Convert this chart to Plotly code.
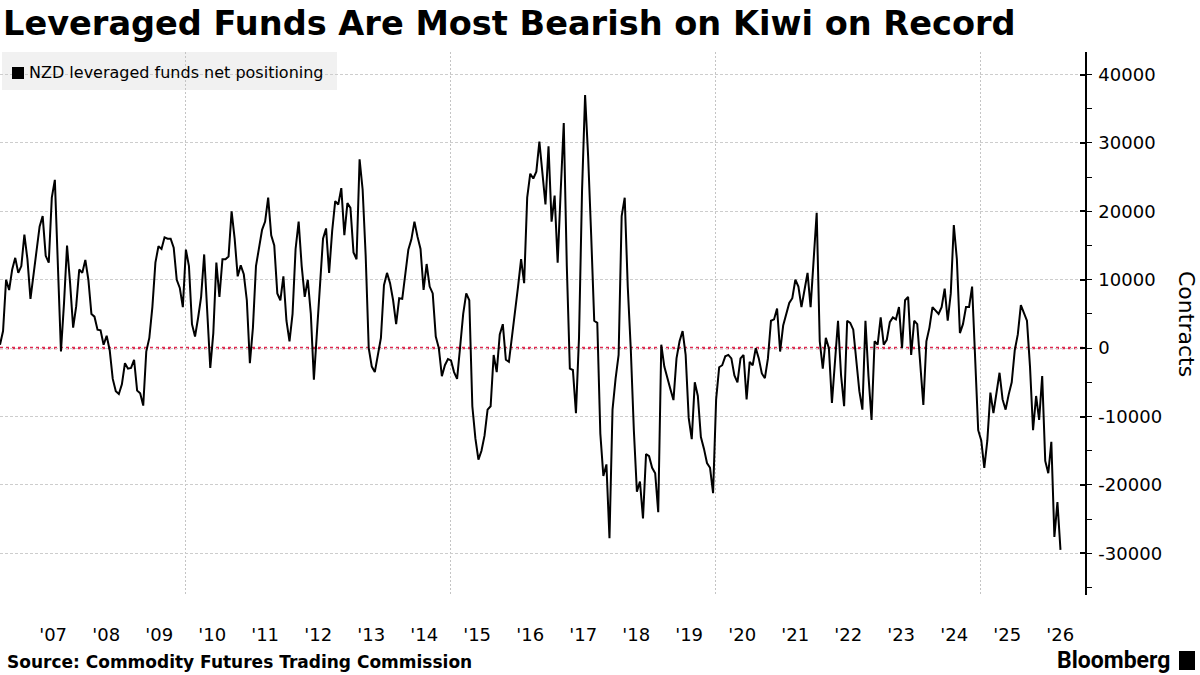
import pandas as pd
import plotly.graph_objects as go

# ---- data (NZD leveraged funds net positioning, thousands of contracts, sampled every 3 weeks) ----
start_date = "2006-07-01"
net_k = [
    0.5, 2.5, 10, 8.5, 11.5, 13.2, 11, 12, 16.6, 13,
    7.2, 10.5, 14, 17.8, 19.3, 13.5, 12.5, 22, 24.6, 12.5,
    -0.5, 6.5, 15, 9.5, 3, 6.1, 11.5, 11, 12.9, 10,
    5, 4.6, 2.7, 2.6, 0.5, 1.8, -0.3, -4.5, -6.3, -6.7,
    -5.3, -2.2, -3, -2.9, -1.7, -6.2, -6.6, -8.4, -0.5, 1.5,
    6, 12.5, 14.9, 14.5, 16.2, 16, 16, 14.7, 10, 8.8,
    6, 14.4, 12, 3.5, 1.7, 4.4, 7.5, 13.7, 4.5, -2.9,
    2.2, 12.5, 7.5, 13, 13, 13.4, 20, 16, 10.5, 12.1,
    10.8, 7, -2.2, 3, 12, 14.8, 17.3, 18.5, 22, 16.5,
    15, 8, 7, 10.5, 4, 1, 5, 14.5, 18.5,
    12, 7.5, 10, 5, -4.6, 2.5, 9, 16, 17.5, 11,
    17.1, 21.5, 21, 23.4, 16.5, 21.2, 20.5, 14, 13, 27.6,
    23.2, 13.5, 0, -2.7, -3.5, -1, 1.5, 9.2, 11, 9.5,
    7, 3.5, 7.3, 7.2, 11, 14.4, 15.9, 18.5, 16.3, 14.5,
    8.5, 12.3, 9, 8, 1.7, 0, -4.1, -2.5, -1.6, -1.8,
    -3.5, -4.5, 0.2, 5, 8, 7, -8.5, -13.2, -16.3, -15,
    -12.8, -9, -8.5, -1, -3.5, 2, 3.5, -1.7, -2, 1.5,
    5.6, 9, 13, 9.5, 22, 25.5, 24.8, 25.8, 30.2, 26,
    21, 29.5, 18.5, 22.3, 12.5, 23, 32.9, 12, -3, -3.2,
    -9.5, 1.5, 23, 37, 28, 16.5, 4, 3.7, -12.5, -18.7,
    -17, -27.8, -9, -4.5, -1, 19.3, 22, 9, -0.2, -12,
    -21, -19.5, -24.9, -15.5, -15.8, -17.5, -18.3, -24, 0.5, -2.7,
    -4.5, -6, -7.6, -1.5, 1, 2.5, -1, -10.2, -13.3, -5,
    -7, -13, -14.7, -16.8, -17.5, -21.2, -7.5, -2.8, -2.5, -1.2,
    -1, -1.5, -4, -5, -1.5, -1, -7.5, -2, -2.5, 0,
    -1.5, -3.7, -4.4, -1.5, 4, 4.2, 5.8, -0.5, 3.3, 5,
    6.6, 7.3, 10, 9, 6, 8.5, 11, 6, 13, 19.8,
    1, -3, 1.5, 0, -8, -2, 4, -4, -8.5, 4,
    3.7, 2.7, -1.5, -6.3, -9, 4, -4.1, -10.5, 1, 0.5,
    4.5, 0.5, 1.2, 3.8, 4.5, 4.2, 6, 0, 7, 7.5,
    -1, 4, 3.5, -2, -8.3, 1, 3, 6, 5.5, 5,
    6, 8.7, 4, 8, 18, 13, 2.2, 3.5, 6, 6,
    9, -1.5, -12, -13.5, -17.5, -13.5, -6.5, -9.5, -6.8, -3.6,
    -7.5, -9, -6.8, -5, -0.3, 2, 6.3, 5.2, 4, -2.7,
    -12, -7, -10.5, -4.1, -16.5, -18.3, -13.7, -27.6, -22.5, -29.5,
]
dates = pd.date_range(start_date, periods=len(net_k), freq="21D")
contracts = [v * 1000 for v in net_k]

year_ticks = [f"{y}-07-02" for y in range(2007, 2027)]
year_labels = ["'" + str(y)[2:] for y in range(2007, 2027)]
y_ticks = [-30000, -20000, -10000, 0, 10000, 20000, 30000, 40000]
y_labels = ["-30000", "-20000", "-10000", "0", "10000", "20000", "30000", "40000"]

title_text = "Leveraged Funds Are Most Bearish on Kiwi on Record"
series_name = "NZD leveraged funds net positioning"
source_text = "Source: Commodity Futures Trading Commission"

FONT = "DejaVu Sans"

fig = go.Figure()
fig.add_trace(go.Scatter(
    x=dates, y=contracts, mode="lines", name=series_name,
    line=dict(color="#000000", width=2), showlegend=False,
))

# zero line
fig.add_shape(type="line", xref="paper", x0=0, x1=1, yref="y", y0=0, y1=0,
              line=dict(color="#e0294f", width=2.5, dash="dot"), layer="below")

# legend box
fig.add_shape(type="rect", xref="paper", yref="paper",
              x0=2 / 1085, x1=337 / 1085, y0=1 - 38 / 543, y1=1.0,
              fillcolor="#f1f1f1", line=dict(width=0), layer="below")
fig.add_shape(type="rect", xref="paper", yref="paper",
              x0=12 / 1085, x1=24 / 1085, y0=1 - 27 / 543, y1=1 - 15 / 543,
              fillcolor="#000000", line=dict(width=0))
fig.add_annotation(text=series_name, xref="paper", yref="paper",
                   x=27 / 1085, y=1 - 20 / 543, xanchor="left", yanchor="middle",
                   showarrow=False, font=dict(family=FONT, size=16, color="#000"))

# y-axis title (reads top to bottom)
fig.add_annotation(text="Contracts", xref="paper", yref="paper",
                   x=1187 / 1085, y=(595 - 324) / 543, textangle=90,
                   xanchor="center", yanchor="middle", showarrow=False,
                   font=dict(family=FONT, size=22, color="#000"))

# source
fig.add_annotation(text="<b>" + source_text + "</b>", xref="paper", yref="paper",
                   x=5 / 1085, y=(595 - 662) / 543, xanchor="left", yanchor="middle",
                   showarrow=False, font=dict(family=FONT, size=17, color="#000"))

# Bloomberg logo text
fig.add_annotation(text="<b>Bloomberg</b>", xref="paper", yref="paper",
                   x=1172 / 1085, y=(595 - 660) / 543, xanchor="right", yanchor="middle",
                   showarrow=False, font=dict(family="Roboto", size=23, color="#000"))
fig.add_shape(type="rect", xref="paper", yref="paper",
              x0=1179 / 1085, x1=1195 / 1085, y0=(595 - 670) / 543, y1=(595 - 651) / 543,
              fillcolor="#000000", line=dict(width=0))

fig.update_layout(
    width=1200, height=675,
    margin=dict(l=0, r=115, t=52, b=80),
    paper_bgcolor="#ffffff", plot_bgcolor="#ffffff",
    title=dict(text="<b>" + title_text + "</b>", xref="container", yref="container",
               x=3 / 1200, y=1 - 23 / 675, xanchor="left", yanchor="middle",
               font=dict(family=FONT, size=33.6, color="#000")),
    font=dict(family=FONT, size=18, color="#000"),
    xaxis=dict(
        type="date", range=["2006-07-01", "2026-12-20"],
        tickmode="array", tickvals=year_ticks, ticktext=year_labels,
        ticks="", showgrid=False, showline=False, zeroline=False,
        ticklabelstandoff=27,
        tickfont=dict(family=FONT, size=18, color="#000"),
        minor=dict(tick0="2010-01-01", dtick="M60", showgrid=True,
                   gridcolor="#c4c4c4", griddash="2px,2px", gridwidth=1, ticks=""),
    ),
    yaxis=dict(
        side="right", range=[-36100, 43300],
        tickmode="array", tickvals=y_ticks, ticktext=y_labels,
        showgrid=True, gridcolor="#cdcdcd", griddash="3px,2px", gridwidth=1,
        zeroline=False, showline=True, linecolor="#000", linewidth=1.5,
        ticks="inside", ticklen=5, tickwidth=1.5, tickcolor="#000",
        ticklabelstandoff=8,
        tickfont=dict(family=FONT, size=18, color="#000"),
        minor=dict(dtick=5000, tick0=0, ticks="outside", ticklen=5, tickcolor="#000",
                   tickwidth=1, showgrid=False),
    ),
)

fig.write_html("out.html")
